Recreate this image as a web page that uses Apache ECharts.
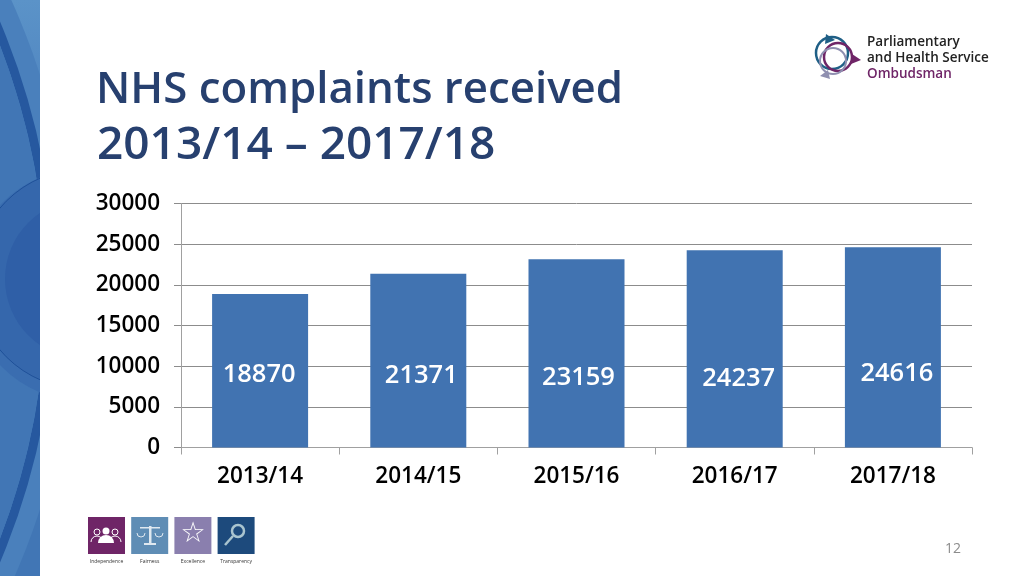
<!DOCTYPE html>
<html>
<head>
<meta charset="utf-8">
<style>
  html, body { margin: 0; padding: 0; background: #fff; }
  #chart { width: 1024px; height: 576px; }
</style>
<script src="https://cdn.jsdelivr.net/npm/echarts@6/dist/echarts.min.js"></script>
</head>
<body>
<div id="chart"></div>
<script>
const years = ['2013/14', '2014/15', '2015/16', '2016/17', '2017/18'];
const complaints = [18870, 21371, 23159, 24237, 24616];
const labelOffsets = [[-1, 4], [3, 15], [2, 24], [4, 30], [4, 26]];
const valueTicks = [0, 5000, 10000, 15000, 20000, 25000, 30000];
const iconColours = ['#6f2567', '#5f8db5', '#8a7fae', '#1d4a7c'];
const iconNames = ['Independence', 'Fairness', 'Excellence', 'Transparency'];

const chart = echarts.init(document.getElementById('chart'));
const font = '"Open Sans", "Noto Sans", sans-serif';

// left band: big circles, the white rect cuts them off at x=40
const band = [
  { type: 'rect', shape: { x: 0, y: 0, width: 40, height: 576 },
    style: { fill: new echarts.graphic.LinearGradient(0, 0, 0, 1, [
      { offset: 0, color: '#5b93c8' }, { offset: 0.15, color: '#5288c2' }, { offset: 0.35, color: '#4176b5' }, { offset: 1, color: '#4176b5' }]) } },
  { type: 'circle', shape: { cx: -637, cy: 292, r: 711 }, style: { fill: '#4a80bc' } },
  { type: 'circle', shape: { cx: -637, cy: 292, r: 687.5 }, style: { fill: 'none', stroke: '#26589f', lineWidth: 9 } },
  { type: 'circle', shape: { cx: -637, cy: 292, r: 683 }, style: { fill: '#4176b5' } },
  { type: 'circle', shape: { cx: 84, cy: 285, r: 116 }, style: { fill: '#3a6db0' } },
  { type: 'circle', shape: { cx: 84, cy: 279, r: 110 }, style: { fill: '#3567ac', stroke: '#1f5199', lineWidth: 1 } },
  { type: 'circle', shape: { cx: 85, cy: 279, r: 80 }, style: { fill: '#2f5fa7' } },
  { type: 'rect', shape: { x: 40, y: 0, width: 984, height: 576 }, style: { fill: '#fff' } }
];

// the four value icons and their captions
const icons = [];
iconColours.forEach((colour, i) => {
  const x = 88 + i * 43.2;
  icons.push({ type: 'rect', shape: { x: x, y: 517, width: 37, height: 37 }, style: { fill: colour } });
  icons.push({ type: 'text', x: x + 18.5, y: 562, style: { text: iconNames[i], fill: '#333', font: '5px ' + font, textAlign: 'center', textVerticalAlign: 'middle' } });
});
icons.push(
  { type: 'circle', shape: { cx: 106, cy: 531, r: 3.5 }, style: { fill: '#fff' } },
  { type: 'sector', shape: { cx: 106, cy: 543, r: 8, startAngle: Math.PI, endAngle: 2 * Math.PI }, style: { fill: '#fff' } },
  { type: 'circle', shape: { cx: 97, cy: 532, r: 3 }, style: { fill: 'none', stroke: '#fff', lineWidth: 1 } },
  { type: 'circle', shape: { cx: 115, cy: 532, r: 3 }, style: { fill: 'none', stroke: '#fff', lineWidth: 1 } },
  { type: 'arc', shape: { cx: 97, cy: 542, r: 6, startAngle: Math.PI, endAngle: 2 * Math.PI }, style: { fill: 'none', stroke: '#fff', lineWidth: 1 } },
  { type: 'arc', shape: { cx: 115, cy: 542, r: 6, startAngle: Math.PI, endAngle: 2 * Math.PI }, style: { fill: 'none', stroke: '#fff', lineWidth: 1 } },
  { type: 'rect', shape: { x: 149, y: 526, width: 2.5, height: 17 }, style: { fill: '#dfe8f0' } },
  { type: 'rect', shape: { x: 140, y: 527, width: 20, height: 1.5 }, style: { fill: '#dfe8f0' } },
  { type: 'rect', shape: { x: 144, y: 543, width: 12, height: 2 }, style: { fill: '#dfe8f0' } },
  { type: 'arc', shape: { cx: 141, cy: 533, r: 4, startAngle: 0, endAngle: Math.PI }, style: { fill: 'none', stroke: '#dfe8f0', lineWidth: 1 } },
  { type: 'arc', shape: { cx: 159, cy: 533, r: 4, startAngle: 0, endAngle: Math.PI }, style: { fill: 'none', stroke: '#dfe8f0', lineWidth: 1 } },
  { type: 'text', x: 193, y: 535, style: { text: '☆', fill: '#fff', font: '28px "DejaVu Sans"', textAlign: 'center', textVerticalAlign: 'middle' } },
  { type: 'circle', shape: { cx: 238, cy: 531, r: 6 }, style: { fill: 'none', stroke: '#a9c4cf', lineWidth: 2.5 } },
  { type: 'line', shape: { x1: 233, y1: 536, x2: 225, y2: 545 }, style: { stroke: '#a9c4cf', lineWidth: 2.5 } }
);

// ombudsman logo
const logo = [
  { type: 'circle', shape: { cx: 832, cy: 53, r: 16 }, style: { fill: 'none', stroke: '#1f5f86', lineWidth: 2.5 } },
  { type: 'circle', shape: { cx: 838, cy: 57, r: 14 }, style: { fill: 'none', stroke: '#6f2567', lineWidth: 2.5 } },
  { type: 'circle', shape: { cx: 833, cy: 61, r: 13 }, style: { fill: 'none', stroke: '#8f8fb0', lineWidth: 2 } },
  { type: 'polygon', shape: { points: [[826, 34], [835, 40], [825, 44]] }, style: { fill: '#1f5f86' } },
  { type: 'polygon', shape: { points: [[852, 54], [861, 60], [851, 64]] }, style: { fill: '#6f2567' } },
  { type: 'polygon', shape: { points: [[828, 70], [820, 76], [830, 79]] }, style: { fill: '#8f8fb0' } },
  { type: 'text', x: 867, y: 42, style: { text: 'Parliamentary', fill: '#222', font: '600 13.5px ' + font, textVerticalAlign: 'middle' } },
  { type: 'text', x: 867, y: 58, style: { text: 'and Health Service', fill: '#222', font: '600 13.5px ' + font, textVerticalAlign: 'middle' } },
  { type: 'text', x: 867, y: 74, style: { text: 'Ombudsman', fill: '#6f2567', font: '600 13.5px ' + font, textVerticalAlign: 'middle' } }
];

const option = {
  animation: false,
  backgroundColor: '#fff',
  title: [
    { text: 'NHS complaints received', left: 96, top: 69, padding: 0,
      textStyle: { color: '#27406f', fontFamily: font, fontSize: 43.8, fontWeight: 600 } },
    { text: '2013/14 – 2017/18', left: 97, top: 123, padding: 0,
      textStyle: { color: '#27406f', fontFamily: font, fontSize: 46, fontWeight: 600 } }
  ],
  grid: { left: 181, right: 52, top: 203.5, bottom: 128.5 },
  xAxis: {
    type: 'category',
    data: years,
    axisLine: { lineStyle: { color: '#a0a0a0' } },
    axisTick: { show: true, alignWithLabel: false, length: 7, lineStyle: { color: '#a0a0a0' } },
    axisLabel: { color: '#000', fontFamily: font, fontSize: 22.5, fontWeight: 600, margin: 18 }
  },
  yAxis: {
    type: 'value',
    min: valueTicks[0],
    max: valueTicks[valueTicks.length - 1],
    interval: valueTicks[1],
    axisLine: { show: true, lineStyle: { color: '#a0a0a0' } },
    axisTick: { show: true, length: 7, lineStyle: { color: '#8c8c8c' } },
    axisLabel: { color: '#000', fontFamily: font, fontSize: 22.5, fontWeight: 600, margin: 21, padding: [2, 0, 0, 0], formatter: v => String(v) },
    splitLine: { lineStyle: { color: '#8c8c8c' } }
  },
  series: [{
    type: 'bar',
    barWidth: 96,
    data: complaints.map((v, i) => ({
      value: v,
      label: { offset: labelOffsets[i] }
    })),
    itemStyle: { color: '#4173b1' },
    label: { show: true, position: 'inside', color: '#fff', fontFamily: font, fontSize: 25.5, fontWeight: 600 }
  }],
  graphic: [].concat(band, icons, logo, [
    { type: 'text', x: 953, y: 549, style: { text: '12', fill: '#8c8c8c', font: '14px ' + font, textAlign: 'center', textVerticalAlign: 'middle' } }
  ])
};

chart.setOption(option);
</script>
</body>
</html>
